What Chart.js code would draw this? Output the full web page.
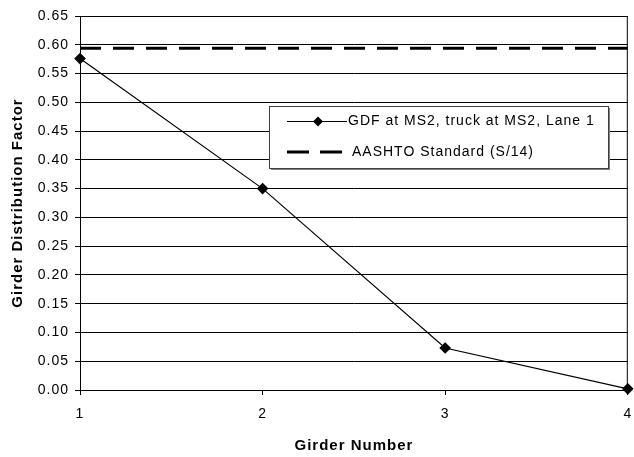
<!DOCTYPE html>
<html>
<head>
<meta charset="utf-8">
<script src="https://cdn.jsdelivr.net/npm/chart.js@4"></script>
<style>
  html, body { margin: 0; padding: 0; background: #fff; }
  #wrap { width: 634px; height: 457px; }
</style>
</head>
<body>
<div id="wrap"><canvas id="myChart" width="634" height="457"></canvas></div>
<script>
// girder numbers and distribution factors
const girders = [1, 2, 3, 4];
const gdfValues = [0.576, 0.35, 0.073, 0.002];
const aashtoGirders = [1, 4];
const aashtoValues = [0.594, 0.594];
const seriesNames = ['GDF at MS2, truck at MS2, Lane 1', 'AASHTO Standard (S/14)'];

const font = "'Liberation Sans', Arial, sans-serif";

const gdfPoints = girders.map((g, i) => ({ x: g, y: gdfValues[i] }));
const aashtoPoints = aashtoGirders.map((g, i) => ({ x: g, y: aashtoValues[i] }));

// the original text is a bit stretched sideways, a little letter spacing mimics it
const spacing = {
    id: 'spacing',
    beforeDraw(chart) {
        chart.ctx.letterSpacing = '1px';
    }
};

// legend box drawn inside the plot, like the spreadsheet original
const boxLegend = {
    id: 'boxLegend',
    afterDraw(chart) {
        const ctx = chart.ctx;
        const x = 269, y = 106, w = 339, h = 62;
        ctx.save();
        ctx.fillStyle = '#808080';
        ctx.fillRect(x + 2, y + 2, w, h);
        ctx.fillStyle = '#fff';
        ctx.fillRect(x, y, w, h);
        ctx.strokeStyle = '#404040';
        ctx.lineWidth = 1;
        ctx.strokeRect(x + 0.5, y + 0.5, w, h);

        // first entry: thin line with diamond
        let ly = 121.5;
        ctx.strokeStyle = '#000';
        ctx.lineWidth = 1;
        ctx.beginPath();
        ctx.moveTo(287, ly);
        ctx.lineTo(347, ly);
        ctx.stroke();
        ctx.fillStyle = '#000';
        ctx.beginPath();
        ctx.moveTo(318, ly - 5);
        ctx.lineTo(323, ly);
        ctx.lineTo(318, ly + 5);
        ctx.lineTo(313, ly);
        ctx.closePath();
        ctx.fill();

        ctx.letterSpacing = '1px';
        ctx.font = '14px ' + font;
        ctx.textBaseline = 'middle';
        ctx.fillText(seriesNames[0], 348, ly);

        // second entry: heavy dashed line
        ly = 152;
        ctx.lineWidth = 3;
        ctx.setLineDash([22, 11]);
        ctx.beginPath();
        ctx.moveTo(287, ly);
        ctx.lineTo(342, ly);
        ctx.stroke();
        ctx.setLineDash([]);
        ctx.fillText(seriesNames[1], 352, ly);
        ctx.restore();
    }
};

const chart = new Chart(document.getElementById('myChart'), {
    type: 'line',
    data: {
        datasets: [{
            label: seriesNames[0],
            data: gdfPoints,
            borderColor: '#000',
            backgroundColor: '#000',
            borderWidth: 1.2,
            pointStyle: 'rectRot',
            pointRadius: 5,
            pointHoverRadius: 5,
            clip: false,
            order: 0
        }, {
            label: seriesNames[1],
            data: aashtoPoints,
            borderColor: '#000',
            borderWidth: 3,
            borderDash: [21, 12],
            pointRadius: 0,
            order: 1
        }]
    },
    options: {
        responsive: false,
        animation: false,
        layout: { padding: { top: 16, right: 4, left: 0, bottom: 0 } },
        plugins: {
            legend: { display: false },
            tooltip: { enabled: false }
        },
        scales: {
            x: {
                type: 'linear',
                min: 1,
                max: 4,
                afterFit: s => {
                    s.height = 67;
                    s.paddingRight = 0;
                    s.paddingLeft = 0;
                },
                border: { color: '#000', width: 1 },
                grid: { drawOnChartArea: false, drawTicks: true, tickLength: 5, color: '#000' },
                ticks: {
                    stepSize: 1,
                    color: '#000',
                    padding: 11,
                    font: { family: font, size: 14 }
                },
                title: {
                    display: true,
                    text: 'Girder Number',
                    color: '#000',
                    font: { family: font, size: 15, weight: 'bold' },
                    padding: { top: 0, bottom: 2 }
                }
            },
            y: {
                min: 0,
                max: 0.65,
                afterFit: s => { s.width = 80; },
                border: { color: '#000', width: 1 },
                grid: { color: '#000', lineWidth: 1, tickLength: 5 },
                ticks: {
                    stepSize: 0.05,
                    color: '#000',
                    padding: 6,
                    font: { family: font, size: 14 },
                    callback: v => v.toFixed(2)
                },
                title: {
                    display: true,
                    text: 'Girder Distribution Factor',
                    color: '#000',
                    font: { family: font, size: 15, weight: 'bold' },
                    padding: { top: 9, bottom: 0 }
                }
            }
        }
    },
    plugins: [spacing, boxLegend, {
        id: 'frame',
        afterDatasetsDraw(c) {
            const a = c.chartArea, ctx = c.ctx;
            ctx.save();
            ctx.strokeStyle = '#000';
            ctx.lineWidth = 1;
            ctx.beginPath();
            ctx.moveTo(a.left, a.top + 0.5);
            ctx.lineTo(a.right - 0.5, a.top + 0.5);
            ctx.lineTo(a.right - 0.5, a.bottom);
            ctx.stroke();
            ctx.restore();
        }
    }]
});
</script>
</body>
</html>
